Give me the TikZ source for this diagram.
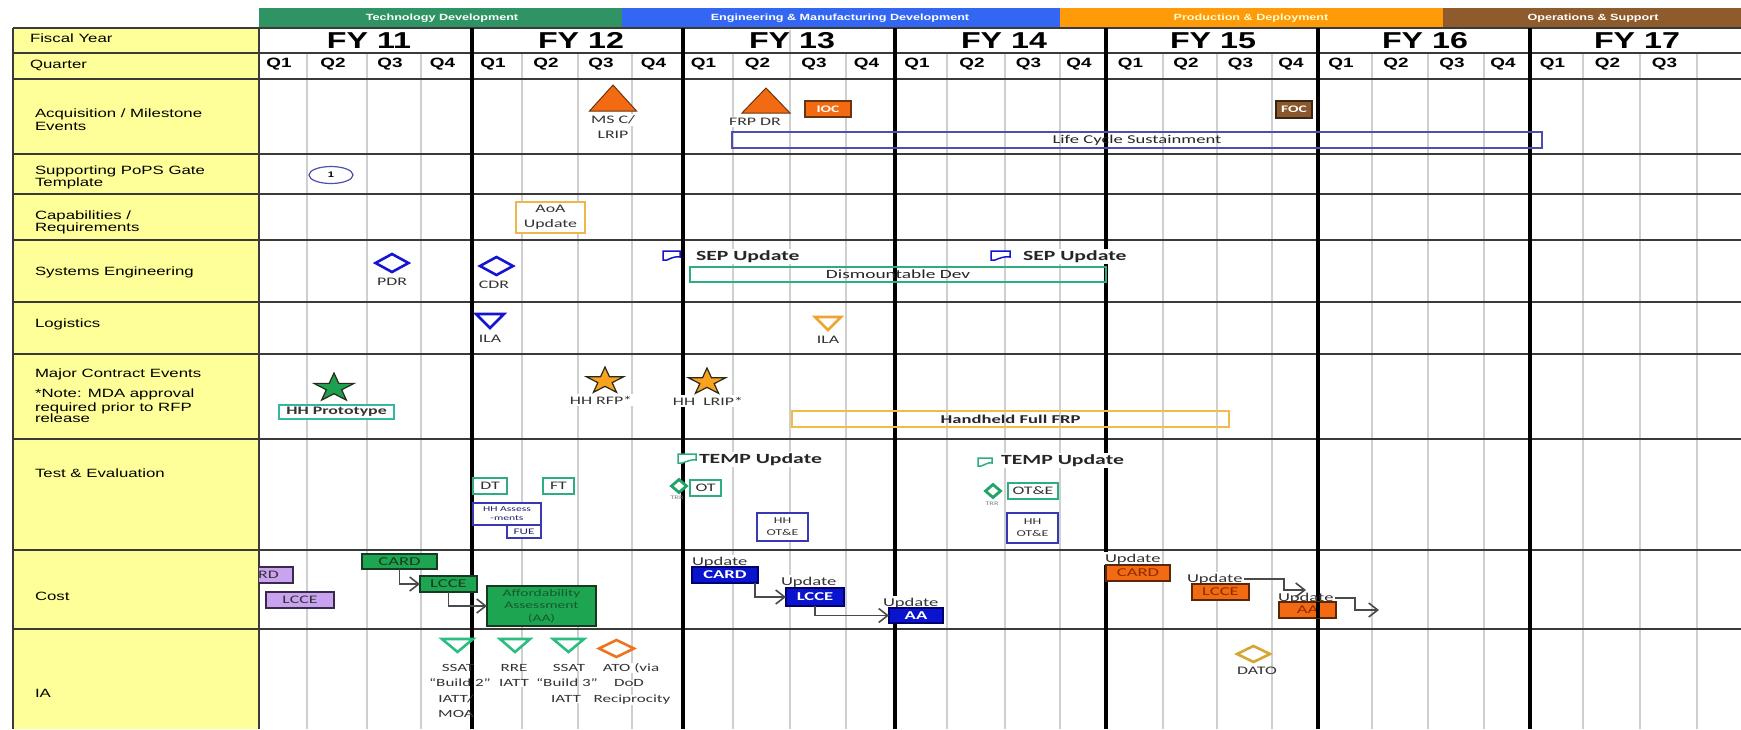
\documentclass[tikz,border=0pt]{standalone}
\usepackage{fontspec}
\setmainfont{Liberation Sans}[FakeStretch=1.4]
\newfontfamily\calfam{Carlito}[FakeStretch=1.55]
\usetikzlibrary{shapes.geometric,arrows.meta,calc}

\definecolor{cphgreen}{HTML}{2F9363}
\definecolor{cphblue}{HTML}{3366F2}
\definecolor{cphorange}{HTML}{FF9A08}
\definecolor{cphbrown}{HTML}{8E5B2C}
\definecolor{cyellow}{HTML}{FFFF99}
\definecolor{cqline}{HTML}{CFCFCF}
\definecolor{crow}{HTML}{3A3A3A}
\definecolor{cmsorange}{HTML}{F26B12}
\definecolor{cmsedge}{HTML}{6B3410}
\definecolor{cfoc}{HTML}{8A582C}
\definecolor{cfocedge}{HTML}{3A2412}
\definecolor{clcpurple}{HTML}{4E4EAE}
\definecolor{caoa}{HTML}{F2B450}
\definecolor{cseblue}{HTML}{1414D2}
\definecolor{cdevgreen}{HTML}{2EAE7E}
\definecolor{cilaorange}{HTML}{F2A232}
\definecolor{cstargreen}{HTML}{1F9F50}
\definecolor{cstarorange}{HTML}{F8A21E}
\definecolor{cstaredge}{HTML}{2A2A1A}
\definecolor{cprotogreen}{HTML}{36B6A2}
\definecolor{cfrporange}{HTML}{F2BA4A}
\definecolor{cteblue}{HTML}{3838B2}
\definecolor{ctrr}{HTML}{22A468}
\definecolor{clavender}{HTML}{C9A3F0}
\definecolor{clavedge}{HTML}{3A2A4A}
\definecolor{ccostgreen}{HTML}{1EA552}
\definecolor{cgreenedge}{HTML}{163A20}
\definecolor{cgreentxt}{HTML}{1A3A22}
\definecolor{caatxt}{HTML}{145A2E}
\definecolor{ccostblue}{HTML}{0A14CF}
\definecolor{cblueedge}{HTML}{00006E}
\definecolor{ccostorange}{HTML}{F26A12}
\definecolor{corangeedge}{HTML}{5E2608}
\definecolor{corangetxt}{HTML}{8E2C00}
\definecolor{ciagreen}{HTML}{2CBE80}
\definecolor{catoorange}{HTML}{F0721E}
\definecolor{cdatogold}{HTML}{D6A632}
\definecolor{ctxt}{HTML}{333333}
\definecolor{carrow}{HTML}{4A4A4A}

\tikzset{
  every node/.style={inner sep=0pt, outer sep=0pt},
  rowlab/.style={anchor=base west, font=\fontsize{12}{13}\selectfont, text=black},
  fylab/.style={anchor=base, font=\fontsize{23}{24}\selectfont\bfseries},
  qlab/.style={anchor=base, font=\fontsize{13.5}{14}\selectfont\bfseries},
  phaselab/.style={anchor=base, font=\fontsize{9}{10}\selectfont\bfseries, text=white},
  tag/.style={anchor=base, font=\calfam\fontsize{11.5}{12}\selectfont, text=ctxt, fill=white, inner xsep=1pt, inner ysep=1.5pt},
  tagw/.style={tag, anchor=base west, font=\calfam\fontsize{12}{12}\selectfont},
  bigtag/.style={anchor=base west, font=\calfam\fontsize{14}{15}\selectfont\bfseries, text=black!85, fill=white, inner xsep=1pt, inner ysep=1.5pt},
  tinylab/.style={anchor=base, font=\calfam\fontsize{5.5}{6}\selectfont, text=gray},
  iatxt/.style={anchor=base, font=\calfam\fontsize{11}{12}\selectfont, text=ctxt},
  evbox/.style={draw=#1, line width=1.4, fill=white, font=\calfam\fontsize{11.5}{12}\selectfont, text=ctxt},
  spanbar/.style={draw=#1, line width=1.3, font=\calfam\fontsize{12.5}{13}\selectfont, text=black!85},
  costbox/.style={draw=#1, line width=1.3, font=\calfam\fontsize{12}{12}\selectfont},
  diam/.style={diamond, draw=#1, line width=2.6, fill=white},
  flow/.style={draw=carrow, line width=1.6, -{Straight Barb[length=9pt,width=14pt]}},
}

\begin{document}
\begin{tikzpicture}[x=1pt,y=-1pt]
\useasboundingbox (0,0) rectangle (1741,729);
\fill[white] (0,0) rectangle (1741,729);

% ---- phase banner ----
\fill[cphgreen]  (259,8) rectangle (622,27);
\fill[cphblue]   (622,8) rectangle (1060,27);
\fill[cphorange] (1060,8) rectangle (1443,27);
\fill[cphbrown]  (1443,8) rectangle (1741,27);
\node[phaselab] (ph1) at (442,20.7) {Technology Development};
\node[phaselab] (ph2) at (840,20.7) {Engineering \& Manufacturing Development};
\node[phaselab, text=white!80!yellow] (ph3) at (1251,20.7) {Production \& Deployment};
\node[phaselab] (ph4) at (1593,20.7) {Operations \& Support};

% ---- label column ----
\fill[cyellow] (13,28) rectangle (259,729);

% ---- grid ----
\foreach \x in {307,367,421,522,578,632,733,790,846,947,1005,1060,1163,1217,1272,1372,1428,1484,1583,1640,1697}
  \draw[cqline, line width=2] (\x,53) -- (\x,729);
\draw[cqline, line width=2] (790,30) -- (790,53);
\foreach \y in {28,53,79,154,194,240,302,354,439,550,629}
  \draw[crow, line width=1.3] (13,\y) -- (1741,\y);
\draw[crow, line width=1.3] (13,28) -- (13,729);
\draw[crow, line width=1.5] (259,28) -- (259,729);
\foreach \x in {472,683,895,1106,1318,1530}
  \draw[black, line width=3.5] (\x,28) -- (\x,729);

% ---- header texts ----
\foreach \x/\t [count=\i] in {369/11,581/12,792/13,1004/14,1213/15,1425/16,1637/17}
  \node[fylab] (fy\i) at (\x,48) {FY \t};
\foreach \x/\q [count=\i] in {279/1,333/2,390/3,442.5/4,493/1,546/2,601/3,653.5/4,703.5/1,757.5/2,814/3,866.5/4,917/1,972/2,1028.5/3,1079/4,1130.5/1,1186/2,1240.5/3,1291/4,1341/1,1396/2,1452/3,1503/4,1552.5/1,1607.5/2,1664.5/3}
  \node[qlab] (q\i) at (\x,67.5) {Q\q};

\node[rowlab] (rFY)  at (30,42)  {Fiscal Year};
\node[rowlab] (rQ)   at (30,68)  {Quarter};
\node[rowlab] (rAa)  at (35,117) {Acquisition / Milestone};
\node[rowlab] (rAb)  at (35,130) {Events};
\node[rowlab] (rPa)  at (35,174) {Supporting PoPS Gate};
\node[rowlab] (rPb)  at (35,186) {Template};
\node[rowlab] (rCa)  at (35,219) {Capabilities /};
\node[rowlab] (rCb)  at (35,231) {Requirements};
\node[rowlab] (rSE)  at (35,275) {Systems Engineering};
\node[rowlab] (rLog) at (35,327) {Logistics};
\node[rowlab] (rMa)  at (35,377) {Major Contract Events};
\node[rowlab] (rMb)  at (35,397) {*Note: MDA approval};
\node[rowlab] (rMc)  at (35,411) {required prior to RFP};
\node[rowlab] (rMd)  at (35,422) {release};
\node[rowlab] (rTE)  at (35,477) {Test \& Evaluation};
\node[rowlab] (rCo)  at (35,600) {Cost};
\node[rowlab] (rIA)  at (35,697) {IA};

% ---- acquisition / milestone events ----
\filldraw[fill=cmsorange, draw=cmsedge, line width=1] (613,85) -- (636.5,111) -- (589.5,111) -- cycle;
\node[tag] (mscA) at (613,123.7) {MS C/};
\node[tag] (mscB) at (613,138) {LRIP};
\filldraw[fill=cmsorange, draw=cmsedge, line width=1] (766,88) -- (790,113) -- (742,113) -- cycle;
\node[tag] (frpdr) at (755,125.7) {FRP DR};
\node[draw=cmsedge, fill=cmsorange, line width=1.2, minimum width=46, minimum height=16,
      text=white, font=\calfam\fontsize{10}{10}\selectfont\bfseries] (ioc) at (828,109) {IOC};
\node[draw=cfocedge, fill=cfoc, line width=1.2, minimum width=36, minimum height=17,
      text=white, font=\calfam\fontsize{10}{10}\selectfont\bfseries] (foc) at (1294,109.5) {FOC};
\node[spanbar=clcpurple, minimum width=810, minimum height=16,
      font=\calfam\fontsize{12}{13}\selectfont] (lcs) at (1137,140) {Life Cycle Sustainment};

% ---- supporting PoPS gate ----
\node[ellipse, draw=clcpurple, line width=1.2, minimum width=44, minimum height=17,
      font=\fontsize{8}{8}\selectfont\bfseries] (gate1) at (331,175) {1};

% ---- capabilities / requirements ----
\node[evbox=caoa, minimum width=69, minimum height=31, align=center,
      font=\calfam\fontsize{11.5}{15}\selectfont] (aoa) at (550.5,217.5) {AoA\\Update};

% ---- systems engineering ----
\node[diam=cseblue, minimum width=33, minimum height=18] (pdr) at (392,263) {};
\node[tag] (pdrlab) at (392,285) {PDR};
\node[diam=cseblue, minimum width=33, minimum height=18] (cdr) at (496.5,266) {};
\node[tag] (cdrlab) at (494,288) {CDR};
\draw[cseblue, line width=1.5, fill=white] (663,251) -- (680,251) -- (680,257)
  .. controls (676,256) and (671,258) .. (667,260) -- (663,260) -- cycle;
\node[bigtag] (sep1) at (695,260.5) {SEP Update};
\draw[cseblue, line width=1.5, fill=white] (991,251) -- (1010,251) -- (1010,257)
  .. controls (1005,256) and (1000,258) .. (995,260) -- (991,260) -- cycle;
\node[bigtag] (sep2) at (1022,260.5) {SEP Update};
\node[spanbar=cdevgreen, minimum width=416, minimum height=15] (dev) at (898,274.5) {Dismountable Dev};

% ---- logistics ----
\draw[cseblue, line width=2.6, fill=white] (476,314) -- (504,314) -- (490,328) -- cycle;
\node[tag] (ila1) at (490,342) {ILA};
\draw[cilaorange, line width=2.6, fill=white] (815,317) -- (841,317) -- (828,330) -- cycle;
\node[tag] (ila2) at (828,343) {ILA};

% ---- major contract events ----
\path[draw=cstaredge, fill=cstargreen, line width=1.2, shift={(334,388)}, xscale=1.41]
  (270:15) -- (306:5.73) -- (342:15) -- (18:5.73) -- (54:15) -- (90:5.73)
  -- (126:15) -- (162:5.73) -- (198:15) -- (234:5.73) -- cycle;
\node[evbox=cprotogreen, minimum width=115, minimum height=14,
      font=\calfam\fontsize{11.5}{12}\selectfont\bfseries] (proto) at (336.5,412) {HH Prototype};
\path[draw=cstaredge, fill=cstarorange, line width=1.2, shift={(605,381)}, xscale=1.41]
  (270:14) -- (306:5.35) -- (342:14) -- (18:5.35) -- (54:14) -- (90:5.35)
  -- (126:14) -- (162:5.35) -- (198:14) -- (234:5.35) -- cycle;
\node[tag] (rfp) at (601,404) {HH RFP*};
\path[draw=cstaredge, fill=cstarorange, line width=1.2, shift={(707,382)}, xscale=1.41]
  (270:14) -- (306:5.35) -- (342:14) -- (18:5.35) -- (54:14) -- (90:5.35)
  -- (126:14) -- (162:5.35) -- (198:14) -- (234:5.35) -- cycle;
\node[tag] (lrip) at (708,405) {HH\ \ LRIP*};
\node[spanbar=cfrporange, minimum width=437, minimum height=16,
      font=\calfam\fontsize{12}{13}\selectfont\bfseries] (hfrp) at (1010.5,419) {Handheld Full FRP};

% ---- test & evaluation ----
\draw[cdevgreen, line width=1.5, fill=white] (678,454) -- (696,454) -- (696,460)
  .. controls (691,459) and (686,462) .. (682,463) -- (678,463) -- cycle;
\node[bigtag] (temp1) at (698,463.5) {TEMP Update};
\draw[cdevgreen, line width=1.5, fill=white] (978,458) -- (992,458) -- (992,463)
  .. controls (988,462) and (985,465) .. (981,466) -- (978,466) -- cycle;
\node[bigtag] (temp2) at (1000,464.5) {TEMP Update};
\node[evbox=cdevgreen, minimum width=34, minimum height=16] (dt) at (490,486) {DT};
\node[evbox=cdevgreen, minimum width=31, minimum height=16] (ft) at (558.5,486) {FT};
\node[diam=ctrr, line width=2.8, minimum width=15, minimum height=13] (trr1) at (679,486) {};
\node[tinylab] (trr1lab) at (677,499.5) {TRR};
\node[evbox=cdevgreen, minimum width=31, minimum height=16] (ot) at (705.5,488) {OT};
\node[diam=ctrr, line width=2.8, minimum width=15, minimum height=13] (trr2) at (993,491) {};
\node[tinylab] (trr2lab) at (992,505.5) {TRR};
\node[evbox=cdevgreen, minimum width=50, minimum height=16] (ote) at (1033,491) {OT\&E};
\node[evbox=cteblue, minimum width=68, minimum height=22, align=center,
      font=\calfam\fontsize{7.5}{9}\selectfont, text=cteblue!60!black] (hha) at (507,514) {HH Assess\\-ments};
\node[evbox=cteblue, minimum width=34, minimum height=13,
      font=\calfam\fontsize{8.5}{9}\selectfont, text=cteblue!60!black] (fue) at (524,531.5) {FUE};
\node[evbox=cteblue, minimum width=51, minimum height=28, align=center,
      font=\calfam\fontsize{9}{12}\selectfont] (hhot1) at (782.5,527) {HH\\OT\&E};
\node[evbox=cteblue, minimum width=51, minimum height=30, align=center,
      font=\calfam\fontsize{9}{12}\selectfont] (hhot2) at (1032.5,528) {HH\\OT\&E};

% ---- cost ----
\begin{scope}
  \clip (259,550) rectangle (320,629);
  \node[costbox=clavedge, fill=clavender, minimum width=69, minimum height=16, text=ctxt,
        font=\calfam\fontsize{11.5}{12}\selectfont] (oldcard) at (258.5,575) {CARD};
\end{scope}
\node[costbox=clavedge, fill=clavender, minimum width=68, minimum height=16, text=ctxt,
      font=\calfam\fontsize{11.5}{12}\selectfont] (oldlcce) at (300,600) {LCCE};

\node[costbox=cgreenedge, fill=ccostgreen, minimum width=75, minimum height=15, text=cgreentxt] (gcard) at (399.5,561.5) {CARD};
\node[costbox=cgreenedge, fill=ccostgreen, minimum width=57, minimum height=16, text=cgreentxt] (glcce) at (448.5,584) {LCCE};
\node[costbox=cgreenedge, fill=ccostgreen, minimum width=109, minimum height=40, align=center,
      text=caatxt, font=\calfam\fontsize{10}{12.5}\selectfont] (gaa) at (541.5,606) {Affordability\\Assessment\\(AA)};

\node[tagw] (bu1) at (691,565) {Update};
\node[costbox=cblueedge, fill=ccostblue, minimum width=66, minimum height=16, text=white,
      font=\calfam\fontsize{12}{12}\selectfont\bfseries] (bcard) at (725,575) {CARD};
\node[tagw] (bu2) at (780,585) {Update};
\node[costbox=cblueedge, fill=ccostblue, minimum width=58, minimum height=18, text=white,
      font=\calfam\fontsize{12}{12}\selectfont\bfseries] (blcce) at (815,597) {LCCE};
\node[tagw] (bu3) at (882,606) {Update};
\node[costbox=cblueedge, fill=ccostblue, minimum width=54, minimum height=15, text=white,
      font=\calfam\fontsize{12}{12}\selectfont\bfseries] (baa) at (916,615.5) {AA};

\node[tagw] (ou1) at (1104,562) {Update};
\node[costbox=corangeedge, fill=ccostorange, minimum width=64, minimum height=16, text=corangetxt] (ocard) at (1138,573) {CARD};
\node[tagw] (ou2) at (1186,582) {Update};
\node[costbox=corangeedge, fill=ccostorange, minimum width=57, minimum height=16, text=corangetxt] (olcce) at (1220.5,592) {LCCE};
\node[tagw, fill=none] (ou3) at (1277,601) {Update};
\node[costbox=corangeedge, fill=ccostorange, minimum width=57, minimum height=16, text=corangetxt] (oaa) at (1307.5,610) {AA};
% the FY16 divider shows through the last orange box
\draw[black, line width=3.5] (oaa.north -| 1318,0) -- (oaa.south -| 1318,0);

\coordinate (otipA) at (1306,590);
\coordinate (otipB) at (1379,610);
\draw[flow] (gcard.south) |- (glcce.west);
\draw[flow] (glcce.south) |- (gaa.west);
\draw[flow] ([xshift=30pt]bcard.south) |- (blcce.west);
\draw[flow] (blcce.south) |- (baa.west);
\draw[flow] (ou2.east) -| ($(otipA)+(-22,0)$) -- (otipA);
\draw[flow] (ou3.east) -| ($(otipB)+(-24,0)$) -- (otipB);

% ---- information assurance ----
\draw[ciagreen, line width=2.6, fill=white] (442,639) -- (473,639) -- (457.5,652) -- cycle;
\draw[ciagreen, line width=2.6, fill=white] (500,639) -- (530,639) -- (515,652) -- cycle;
\draw[ciagreen, line width=2.6, fill=white] (553,639) -- (584,639) -- (568.5,652) -- cycle;
\node[diam=catoorange, minimum width=35, minimum height=17] (ato) at (616.5,648.5) {};
\node[diam=cdatogold, minimum width=33, minimum height=16] (dato) at (1253.5,654) {};

\node[iatxt] (ia1a) at (458,671.2) {SSAT};
\node[iatxt] (ia1b) at (460,686.8) {“Build 2”};
\node[iatxt] (ia1c) at (456,702.8) {IATT/};
\node[iatxt] (ia1d) at (456,717.5) {MOA};
\node[iatxt, fill=white] (ia2a) at (514,671.2) {RRE};
\node[iatxt, fill=white] (ia2b) at (514,686.8) {IATT};
\node[iatxt, fill=white] (ia3a) at (569,671.2) {SSAT};
\node[iatxt] (ia3b) at (567,686.8) {“Build 3”};
\node[iatxt, fill=white] (ia3c) at (566,702.8) {IATT};
\node[iatxt, fill=white] (ia4a) at (631,671.2) {ATO (via};
\node[iatxt, fill=white] (ia4b) at (629,686.8) {DoD};
\node[iatxt, fill=white] (ia4c) at (632,702.8) {Reciprocity};
\node[iatxt, font=\calfam\fontsize{11.5}{12}\selectfont] (datolab) at (1257,674) {DATO};
\end{tikzpicture}
\end{document}
